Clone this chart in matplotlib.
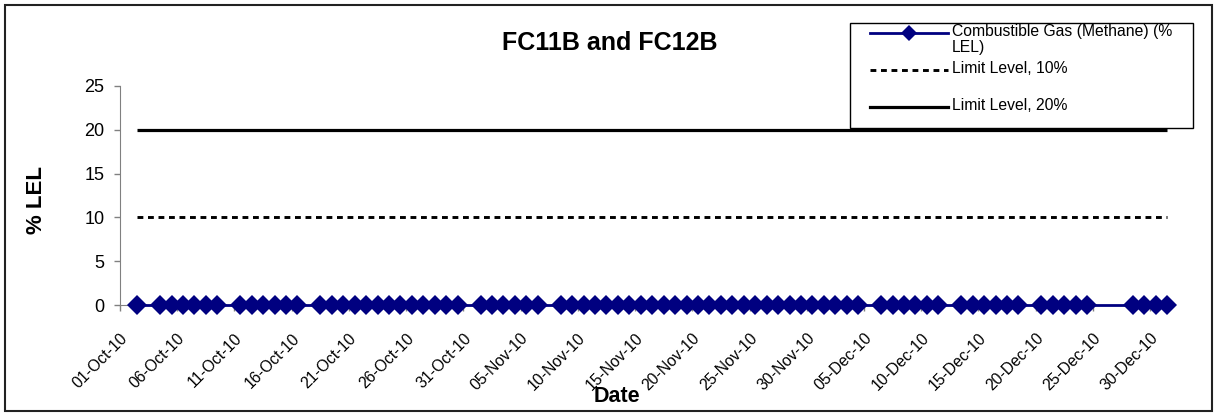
import datetime as dt
import matplotlib
matplotlib.use("Agg")
import matplotlib.pyplot as plt
import matplotlib.dates as mdates
from matplotlib.lines import Line2D
from matplotlib.patches import Rectangle

plt.rcParams['font.family'] = ['Liberation Sans', 'DejaVu Sans']

# reading days (Sundays mostly skipped, no readings 25-27 Dec)
oct_days = [2, 4, 5, 6, 7, 8, 9, 11, 12, 13, 14, 15, 16,
            18, 19, 20, 21, 22, 23, 24, 25, 26, 27, 28, 29, 30]
nov_days = [1, 2, 3, 4, 5, 6, 8, 9, 10, 11, 12, 13, 14, 15, 16, 17, 18, 19,
            20, 21, 22, 23, 24, 25, 26, 27, 28, 29, 30]
dec_days = [1, 2, 3, 4, 6, 7, 8, 9, 10, 11, 13, 14, 15, 16, 17, 18,
            20, 21, 22, 23, 24, 28, 29, 30, 31]

methane = [0, 0, 0, 0, 0, 0, 0, 0, 0, 0, 0, 0, 0, 0, 0, 0, 0, 0, 0, 0,
           0, 0, 0, 0, 0, 0, 0, 0, 0, 0, 0, 0, 0, 0, 0, 0, 0, 0, 0, 0,
           0, 0, 0, 0, 0, 0, 0, 0, 0, 0, 0, 0, 0, 0, 0, 0, 0, 0, 0, 0,
           0, 0, 0, 0, 0, 0, 0, 0, 0, 0, 0, 0, 0, 0, 0, 0, 0, 0, 0, 0]
limit_10 = 10
limit_20 = 20

labels = ['Combustible Gas (Methane) (%\nLEL)', 'Limit Level, 10%', 'Limit Level, 20%']
title = 'FC11B and FC12B'

dates = ([dt.datetime(2010, 10, d) for d in oct_days] +
         [dt.datetime(2010, 11, d) for d in nov_days] +
         [dt.datetime(2010, 12, d) for d in dec_days])
# points sit in the middle of their day slot (Excel date axis)
xs = [d + dt.timedelta(hours=12) for d in dates]

W, H = 1216, 416
fig = plt.figure(figsize=(W / 100, H / 100), dpi=100)


def fx(x):
    return x / W


def fy(y):
    return 1 - y / H


ax = fig.add_axes([fx(120), fy(305), fx(1173) - fx(120), fy(86) - fy(305)])

navy = '#000080'
dots = (0, (2.0, 1.6))
ax.plot([xs[0], xs[-1]], [limit_20, limit_20], color='black', lw=2.3, solid_capstyle='butt')
ax.plot([xs[0], xs[-1]], [limit_10, limit_10], color='black', lw=2.1,
        linestyle=dots, dash_capstyle='butt')
ax.plot(xs, methane, color=navy, lw=2, marker='D', markersize=10,
        markeredgewidth=0, clip_on=False, zorder=5)

ax.set_xlim(dt.datetime(2010, 10, 1), dt.datetime(2011, 1, 1))
ax.set_ylim(0, 25)
ax.set_yticks([0, 5, 10, 15, 20, 25])
ticks = [dt.datetime(2010, 10, 1) + dt.timedelta(days=5 * k) for k in range(19)]
ax.set_xticks(ticks)
ax.xaxis.set_major_formatter(mdates.DateFormatter('%d-%b-%y'))
for lab in ax.get_xticklabels():
    lab.set_rotation(45)
    lab.set_ha('right')
    lab.set_rotation_mode('anchor')
ax.tick_params(axis='both', direction='out', length=4.3, width=1, color='#808080')
ax.tick_params(axis='x', labelsize=11.3, pad=14)
ax.tick_params(axis='y', labelsize=13, pad=7)

for s in ['top', 'right']:
    ax.spines[s].set_visible(False)
ax.spines['left'].set_color('#808080')
ax.spines['bottom'].set_color('#808080')

fig.text(fx(610), fy(43), title, ha='center', va='center', fontsize=18, fontweight='bold')
fig.text(fx(37), fy(200), '% LEL', ha='center', va='center', rotation=90,
         fontsize=16, fontweight='bold')
fig.text(fx(617), fy(397), 'Date', ha='center', va='center', fontsize=15.5, fontweight='bold')

# legend drawn by hand to follow the Excel layout
fig.patches.append(Rectangle((fx(850), fy(128)), fx(1193) - fx(850), fy(23) - fy(128),
                             transform=fig.transFigure, facecolor='white',
                             edgecolor='black', lw=1, zorder=10))
leg_y = [33, 70, 107]
styles = [dict(color=navy, lw=2), dict(color='black', lw=2.1, linestyle=dots),
          dict(color='black', lw=2.3)]
for yy, st, lab in zip(leg_y, styles, labels):
    fig.lines.append(Line2D([fx(870), fx(948)], [fy(yy), fy(yy)], transform=fig.transFigure,
                            zorder=11, **st))
    fig.text(fx(952), fy(yy - 9), lab, ha='left', va='top', fontsize=11.3, zorder=12,
             linespacing=1.05)
fig.lines.append(Line2D([fx(909)], [fy(33)], transform=fig.transFigure, marker='D',
                        markersize=8, color=navy, markeredgewidth=0, zorder=11))

# chart border
fig.patches.append(Rectangle((fx(5), fy(411)), fx(1212) - fx(5), fy(5) - fy(411),
                             transform=fig.transFigure, facecolor='none',
                             edgecolor='#222222', lw=1.5, zorder=20))

fig.savefig('out.png', dpi=100)
